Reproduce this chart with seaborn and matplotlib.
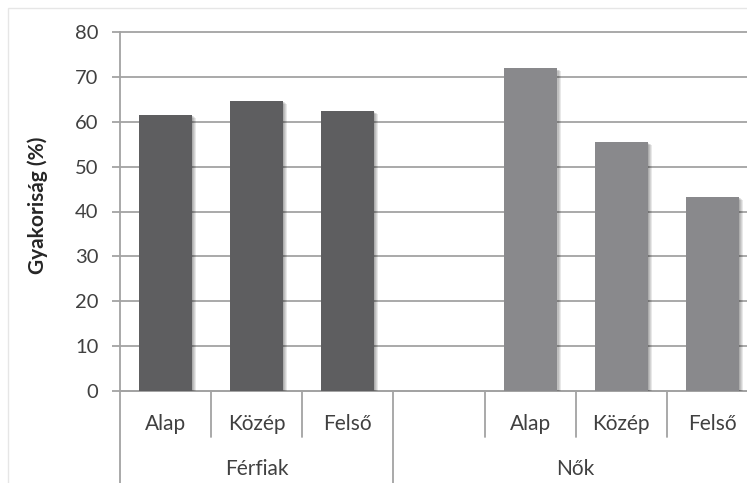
import matplotlib
matplotlib.use("Agg")
import matplotlib.pyplot as plt
import matplotlib.patheffects as pe
import matplotlib.transforms as mtransforms
from matplotlib.patches import Rectangle
import pandas as pd
import seaborn as sns

# Data
levels = ["Alap", "Közép", "Felső"]
groups = ["Férfiak", "Nők"]
ferfiak = [61.5, 64.6, 62.3]
nok = [71.9, 55.4, 43.2]
slots = {"Férfiak": [0, 1, 2], "Nők": [4, 5, 6]}
colors = {"Férfiak": "#5e5e60", "Nők": "#88898c"}
yticks = [0, 10, 20, 30, 40, 50, 60, 70, 80]
ylabel = "Gyakoriság (%)"

sns.set_theme(style="white")
plt.rcParams["font.family"] = ["Lato", "DejaVu Sans"]

rows = []
for g, vals in zip(groups, [ferfiak, nok]):
    for lvl, v, s in zip(levels, vals, slots[g]):
        rows.append({"group": g, "level": lvl, "slot": s, "value": v})
df = pd.DataFrame(rows)

W, H = 747, 483
fig = plt.figure(figsize=(W / 100, H / 100), dpi=100)
ax = fig.add_axes([120 / W, 1 - 391 / H, 638 / W, 359 / H])

sns.barplot(data=df, x="slot", y="value", hue="group", palette=colors,
            native_scale=True, dodge=False, width=0.58, legend=False,
            ax=ax, zorder=3, linewidth=0)

# soft drop shadow behind the bars
shadow = [pe.SimplePatchShadow(offset=(o, -o * 0.6), shadow_rgbFace="#000000",
                               alpha=0.09) for o in (0.6, 1.4, 2.2, 3.0)]
for p in ax.patches:
    p.set_path_effects(shadow + [pe.Normal()])

ax.set_xlim(-0.5, 6.5)
ax.set_ylim(0, 80)
ax.set_yticks(yticks)
ax.set_axisbelow(True)
ax.grid(axis="y", color="#a3a3a3", lw=1.3)
ax.grid(axis="x", visible=False)
for gl in ax.yaxis.get_gridlines():
    gl.set_clip_on(False)

for side in ("top", "right"):
    ax.spines[side].set_visible(False)
for side in ("left", "bottom"):
    ax.spines[side].set_color("#a3a3a3")
    ax.spines[side].set_linewidth(1.3)

ax.tick_params(axis="y", left=True, length=5.5, width=1.3, color="#a3a3a3",
               pad=10, labelsize=14.5, labelcolor="#404040")
ax.set_xticks([])
ax.set_xlabel("")
ax.set_ylabel(ylabel, fontsize=15, fontweight="bold", color="#262626")
ax.yaxis.set_label_coords(-72 / 638, (391 - 205) / 359)

# category axis: level labels, group labels and separators
trans = mtransforms.blended_transform_factory(ax.transData, ax.transAxes)
ax_h = 359
for g in groups:
    for lvl, s in zip(levels, slots[g]):
        ax.text(s, -39 / ax_h, lvl, transform=trans, ha="center",
                va="baseline", fontsize=15, color="#404040")
group_spans = {"Férfiak": (-0.5, 2.5), "Nők": (2.5, 6.5)}
for g in groups:
    a, b = group_spans[g]
    ax.text((a + b) / 2, -84 / ax_h, g, transform=trans, ha="center",
            va="baseline", fontsize=15, color="#404040")

short_edges = [0.5, 1.5, 3.5, 4.5, 5.5]
long_edges = [-0.5, 2.5, 6.5]
for x in short_edges:
    ax.plot([x, x], [0, -46 / ax_h], transform=trans, color="#a3a3a3",
            lw=1.3, clip_on=False)
for x in long_edges:
    ax.plot([x, x], [0, -100 / ax_h], transform=trans, color="#a3a3a3",
            lw=1.3, clip_on=False)

# faint chart-area frame
fig.add_artist(Rectangle((8 / W, -0.1), 1.2, 1.1 - 8 / H,
                         transform=fig.transFigure, fill=False,
                         edgecolor="#e6e6e6", lw=1))

fig.savefig("out.png", dpi=100, facecolor="white")
